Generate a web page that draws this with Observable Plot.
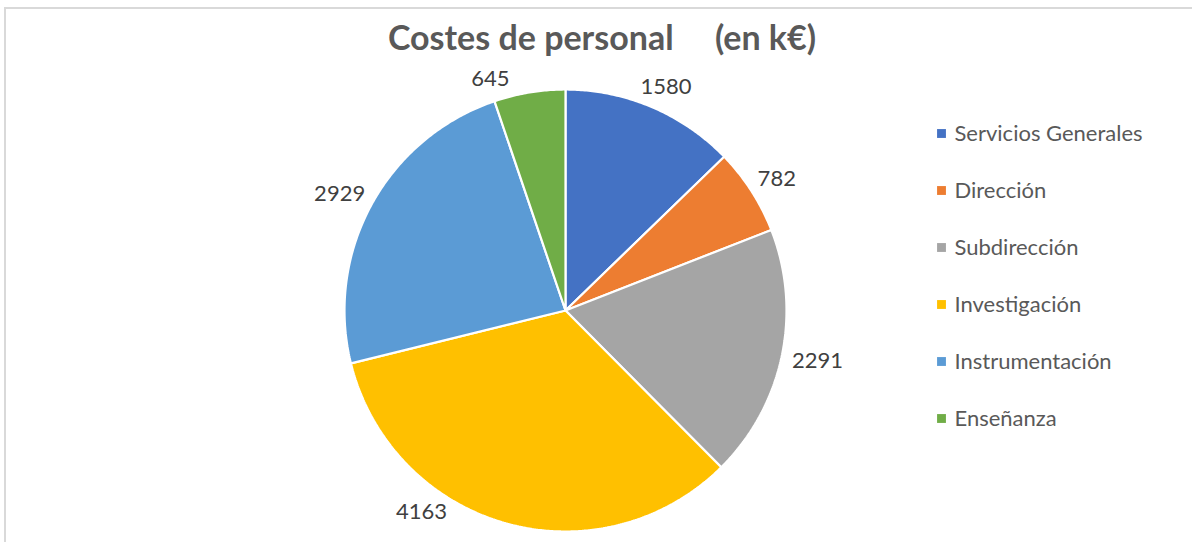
<!DOCTYPE html>
<html>
<head>
<meta charset="utf-8">
<script src="https://cdn.jsdelivr.net/npm/d3@7"></script>
<script src="https://cdn.jsdelivr.net/npm/@observablehq/plot@0.6"></script>
<style>
  html, body { margin:0; padding:0; background:#fff; overflow:hidden; }
  #wrap { position:relative; width:1192px; height:542px; overflow:hidden; }
  #frame { position:absolute; left:4px; top:7px; width:1300px; height:700px; border:2px solid #d9d9d9; box-sizing:border-box; }
  #title { position:absolute; left:6px; top:14px; width:1192px; text-align:center; white-space:pre;
           font-family:Lato, "Open Sans", sans-serif; font-weight:700; font-size:34px; color:#595959; line-height:46px; }
  #pie { position:absolute; left:0; top:0; }
  #legend { position:absolute; left:930px; top:104px; }
</style>
</head>
<body>
<div id="wrap">
  <div id="frame"></div>
  <div id="pie"></div>
  <div id="title"></div>
  <div id="legend"></div>
</div>
<script>
const title = "Costes de personal     (en k€)";
const categories = ["Servicios Generales", "Dirección", "Subdirección", "Investigación", "Instrumentación", "Enseñanza"];
const values = [1580, 782, 2291, 4163, 2929, 645];
const colors = ["#4472C4", "#ED7D31", "#A5A5A5", "#FFC000", "#5B9BD5", "#70AD47"];

document.getElementById("title").textContent = title;

const W = 1192, H = 542;
const cx = 565, cy = 310, R = 221;
const fontFamily = "Lato, 'Open Sans', sans-serif";
const labelSize = 22;

const data = categories.map((name, i) => ({name, value: values[i]}));
const arcs = d3.pie().sort(null).value(d => d.value)(data);

// slice outlines (unit circle, angle clockwise from top)
const pts = [];
for (const a of arcs) {
  const n = Math.max(2, Math.ceil((a.endAngle - a.startAngle) / (Math.PI / 360)));
  pts.push({name: a.data.name, x: 0, y: 0});
  for (let k = 0; k <= n; k++) {
    const t = a.startAngle + (a.endAngle - a.startAngle) * k / n;
    pts.push({name: a.data.name, x: Math.sin(t), y: Math.cos(t)});
  }
  pts.push({name: a.data.name, x: 0, y: 0});
}

// labels: outside end, with a simple best-fit that keeps them clear of title and bottom edge
const ctx = document.createElement("canvas").getContext("2d");
ctx.font = `${labelSize}px ${fontFamily}`;
const lh = labelSize;
const topLimit = 78, bottomLimit = H - 30;
const labels = arcs.map(a => {
  const text = String(a.data.value);
  const w = ctx.measureText(text).width;
  let t = (a.startAngle + a.endAngle) / 2;
  const side = Math.sin(t) >= 0 ? 1 : -1;
  const pos = th => {
    const rr = R + 11;
    const px = cx + rr * Math.sin(th) + (w / 2) * Math.sin(th);
    const py = cy - rr * Math.cos(th) - (lh / 2) * Math.cos(th);
    return [px, py];
  };
  let [px, py] = pos(t);
  let guard = 0;
  while ((py > bottomLimit || py < topLimit) && guard++ < 600) {
    if (py > bottomLimit) t -= side * 0.005;   // slide away from the bottom
    else t += side * 0.005;                   // slide away from the top
    [px, py] = pos(t);
  }
  return {text, x: (px - cx) / R, y: (cy - py) / R};
});

const pie = Plot.plot({
  width: W, height: H, margin: 0,
  x: {domain: [-1, 1], range: [cx - R, cx + R], axis: null},
  y: {domain: [-1, 1], range: [cy + R, cy - R], axis: null},
  color: {domain: categories, range: colors},
  style: {background: "transparent"},
  marks: [
    Plot.line(pts, {x: "x", y: "y", z: "name", fill: "name", stroke: "white", strokeWidth: 2.2, strokeLinejoin: "miter", curve: "linear"}),
    Plot.text(labels, {x: "x", y: "y", text: "text", fill: "#404040", fontSize: labelSize, fontFamily, textAnchor: "middle", lineAnchor: "middle"})
  ]
});
document.getElementById("pie").append(pie);

const legend = Plot.plot({
  width: 262, height: 342, margin: 0,
  x: {domain: [0, 1], range: [11, 250], axis: null},
  y: {type: "point", domain: categories, range: [0, 342], padding: 0.5, axis: null},
  color: {domain: categories, range: colors},
  style: {background: "transparent"},
  marks: [
    Plot.dot(categories, {x: () => 0, y: d => d, fill: d => d, symbol: "square", r: 5}),
    Plot.text(categories, {x: () => 0, y: d => d, text: d => d, dx: 13, textAnchor: "start", fill: "#595959", fontSize: 22, fontFamily})
  ]
});
document.getElementById("legend").append(legend);
</script>
</body>
</html>
